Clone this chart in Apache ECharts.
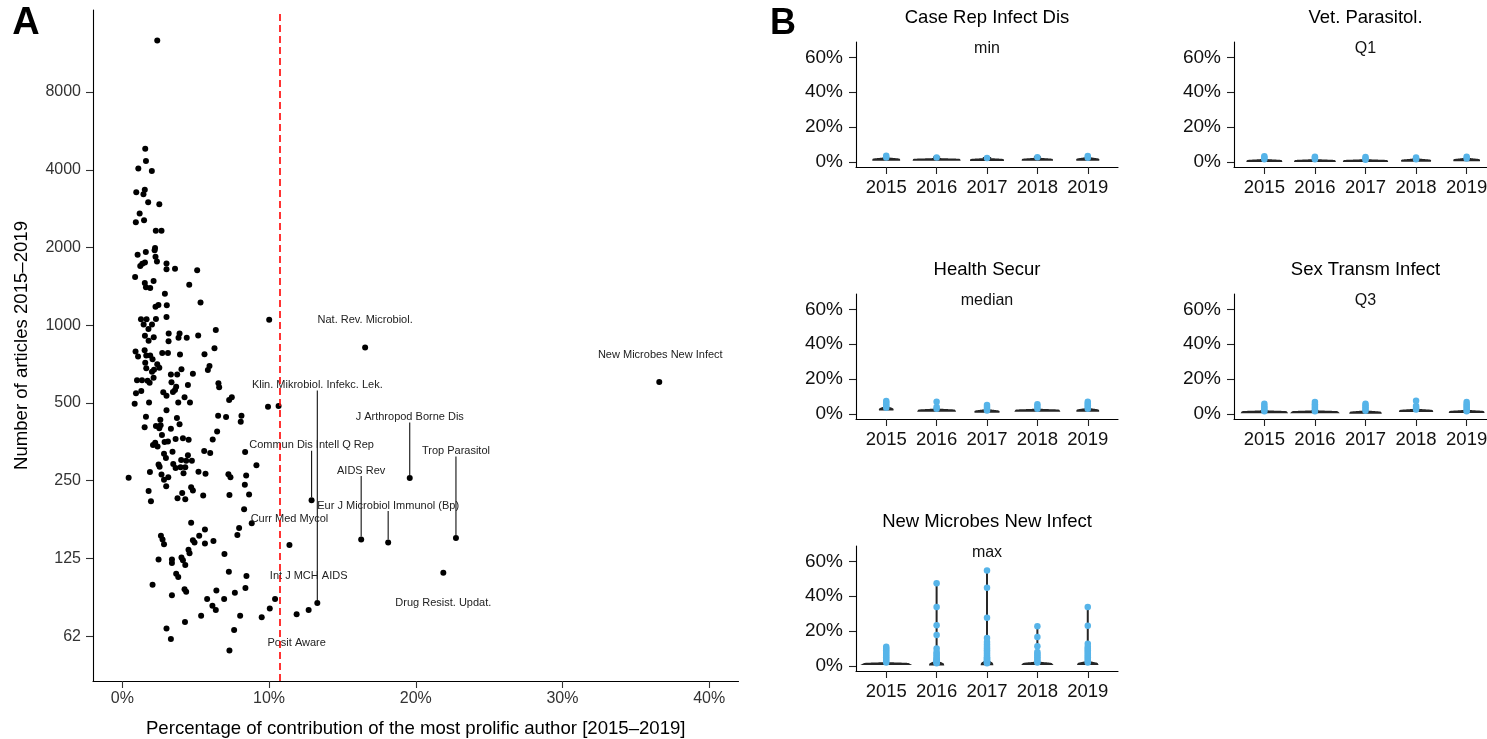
<!DOCTYPE html>
<html><head><meta charset="utf-8">
<script src="https://cdn.jsdelivr.net/npm/echarts@6/dist/echarts.min.js"></script>
<style>html,body{margin:0;padding:0;background:#fff}#c{width:1487px;height:739px}</style>
</head><body><div id="c"></div>
<script>
// ---------- Panel A data ----------
const pctMain = [2.38,1.56,1.61,1.09,2.01,0.95,1.53,1.44,1.76,2.52,
1.18,0.92,1.48,2.28,2.67,2.23,2.20,1.60,1.04,2.26,
2.36,1.54,1.36,1.22,3.01,3.01,3.59,5.10,0.87,2.13,
1.53,1.61,1.90,4.56,2.90,5.33,2.46,2.26,3.03,1.27,
1.65,2.29,3.01,10.01,1.45,2.02,1.78,6.37,3.16,3.90,
5.17,1.54,2.14,3.83,4.39,1.79,3.15,6.28,0.90,1.52,
2.72,3.11,1.07,1.63,1.90,3.93,5.60,2.06,1.56,2.38,
2.52,2.16,5.94,5.83,1.63,4.03,3.31,3.74,4.81,2.02,
2.13,1.00,1.34,1.72,1.86,3.35,3.67,3.59,4.47,6.55,
6.60,1.29,0.93,2.79,3.01,3.45,4.24,7.46,7.28,0.84,
1.82,3.81,4.61,9.93,10.65,3.01,1.61,2.59,3.72,6.53,
7.07,8.12,8.07,1.52,2.29,2.61,2.52,3.31,3.90,6.46,
2.70,3.63,4.13,4.52,6.16,2.24,2.09,2.40,2.88,3.11,
8.37,2.84,2.97,3.42,5.58,5.99,4.47,4.01,4.35,4.74,
9.14,2.47,2.54,3.47,3.63,3.97,4.29,1.88,4.17,5.19,
5.67,0.43,2.67,2.84,3.13,7.23,7.37,8.44,2.99,8.35,
1.79,4.69,4.81,1.95,4.08,3.76,4.29,5.51,7.30,8.64,
8.30,8.82,4.69,7.96,7.84,5.63,5.24,6.21,5.63,2.63,
2.74,2.84,4.81,4.92,4.51,4.58,4.03,3.38,2.47,6.96,
3.38,4.13,4.29,7.26,8.46,3.67,3.81,2.06,3.38,4.24,
4.35,6.41,7.67,8.39,5.78,6.94,6.14,6.37,10.41,10.05,
5.37,8.03,9.50,4.27,3.01,7.62,3.31,7.30];
const articlesMain = [12670,4828,4325,4043,3954,3276,3350,3216,2997,2944,
2706,2503,2548,2322,2322,1990,1953,1921,1875,1843,
1767,1751,1731,1695,1736,1648,1655,1634,1536,1483,
1456,1402,1393,1436,1323,1225,1198,1180,1195,1055,
1055,1058,1077,1050,1006,1006,967,959,930,930,
913,910,898,894,894,871,868,814,792,801,
780,780,757,764,764,771,773,738,715,707,
684,672,695,671,681,676,645,645,649,660,
626,612,612,610,599,601,578,561,587,596,
575,557,545,550,533,552,526,526,514,497,
502,502,502,484,487,469,442,431,437,446,
441,446,423,403,407,410,399,397,414,388,
376,363,365,360,361,351,344,339,353,355,
323,318,306,324,326,320,314,301,299,299,
287,289,283,290,280,282,282,270,267,271,
266,257,264,252,258,265,258,262,238,241,
228,236,229,208,224,214,212,219,220,221,
194,171,172,164,154,162,153,146,143,153,
148,142,147,144,135,131,126,124,124,130,
120,123,118,111,107,109,106,99,90,95,
93,94,92,96,87,87,82,79,87,80,
75,75,74,71,67,66,61,55];
const labeledNames = ['Curr Med Mycol','Posit Aware','Int J MCH AIDS','Commun Dis Intell Q Rep',
  'Klin. Mikrobiol. Infekc. Lek.','AIDS Rev','Nat. Rev. Microbiol.','Eur J Microbiol Immunol (Bp)',
  'J Arthropod Borne Dis','Drug Resist. Updat.','Trop Parasitol','New Microbes New Infect'];
const labeledPct = [11.39,11.88,12.70,12.90,13.29,16.28,16.55,18.12,19.59,21.88,22.74,36.60];
const labeledArticles = [141,76,79,210,84,148,820,144,256,110,150,603];
const thresholdPct = 10.72;
const xTickValuesA = [0,10,20,30,40];
const yTickValuesA = [62.5,125,250,500,1000,2000,4000,8000];

// ---------- Panel B data ----------
const years = [2015,2016,2017,2018,2019];
const yTickValuesB = [0,20,40,60];
const journalsB = ['Case Rep Infect Dis','Vet. Parasitol.','Health Secur','Sex Transm Infect','New Microbes New Infect'];
const statsB = ['min','Q1','median','Q3','max'];
// base value (share of single-article authors), number of such authors, other authors' shares
const caseRepBase = [1.3,1.2,1.1,1.2,1.3];
const caseRepBaseCount = [10,9,5,6,7];
const caseRepOthers = [[2.5,3.5],[2.5],[2.3],[2.7],[2.4,3.4]];
const vetParBase = [0.5,0.5,0.5,0.7,1.0];
const vetParBaseCount = [23,27,24,8,8];
const vetParOthers = [[1.5,2.5,3.2],[1.5,2.5,3.0],[1.2,2.0,2.8],[1.5,2.5],[2.0,3.0]];
const healthBase = [2.5,1.9,1.3,1.9,1.9];
const healthBaseCount = [16,50,23,45,35];
const healthOthers = [[3.5,4.5,5.5,6.5,7.4],[3.0,4.0,7.0],[2.0,3.0,4.0,5.2],[3.0,4.2,5.5],[3,4,5,6,7]];
const sexBase = [1.0,1.0,0.7,1.7,1.1];
const sexBaseCount = [83,127,59,55,80];
const sexOthers = [[1.5,2.5,3.5,4.5,5.8],[1.5,2.5,3.5,4.5,5.5,6.9],[1.8,2.8,3.8,4.8,5.8],[2.5,3.5,4.5,7.6],[1.5,2.5,3.5,4.5,5.5,6.9]];
const nmniBase = [1.1,0.8,1.0,1.1,1.1];
const nmniBaseCount = [390,385,380,390,387];
const nmniOthers = [
  [2,3,4,5,6,7,8,9,10,11],
  [1.5,2,2.5,3,3.5,4,5,6,7,8,10,17.8,23.3,33.8,47.4],
  [1.5,2,2.5,3,3.5,4,4.5,5,6,7,8,9,10,11,12.3,13.8,16.0,27.7,44.9,54.7],
  [2,3,4,5,6,7,8,11.3,16.6,22.7],
  [2,3,4,5,6,7,8,9,10,11,12.8,23.1,33.8]
];

// ---------- layout / style config ----------
const FONT = "'Liberation Sans', Arial, Helvetica, sans-serif";
const labelCfg = {
  'Curr Med Mycol': {dx:0, dy:-26, line:false},
  'Posit Aware': {dx:0, dy:29, line:false},
  'Int J MCH AIDS': {dx:0, dy:-34, line:false},
  'Commun Dis Intell Q Rep': {dx:0, dy:-55, line:true},
  'Klin. Mikrobiol. Infekc. Lek.': {dx:0, dy:-218, line:true},
  'AIDS Rev': {dx:0, dy:-69, line:true},
  'Nat. Rev. Microbiol.': {dx:0, dy:-28, line:false},
  'Eur J Microbiol Immunol (Bp)': {dx:0, dy:-37, line:true},
  'J Arthropod Borne Dis': {dx:0, dy:-61, line:true},
  'Drug Resist. Updat.': {dx:0, dy:30, line:false},
  'Trop Parasitol': {dx:0, dy:-87, line:true},
  'New Microbes New Infect': {dx:1, dy:-27, line:false}
};
const panelLayout = [
  {left:856, top:42, width:262},
  {left:1234, top:42, width:263},
  {left:856, top:294, width:262},
  {left:1234, top:294, width:263},
  {left:856, top:546, width:262}
];
const PANEL_H = 125;

// ---------- violin densities (gaussian KDE, nrd0 bandwidth, trimmed) ----------
function violinDensity(base, count, others) {
  const xs = [];
  for (let k = 0; k < count; k++) xs.push(base);
  others.forEach(v => xs.push(v));
  xs.sort((a,b) => a-b);
  const n = xs.length;
  const mean = xs.reduce((a,b)=>a+b,0)/n;
  const sd = Math.sqrt(xs.reduce((a,b)=>a+(b-mean)*(b-mean),0)/(n-1));
  const q = p => { const h=(n-1)*p, lo=Math.floor(h), hi=Math.ceil(h); return xs[lo]+(h-lo)*(xs[hi]-xs[lo]); };
  const iqr = q(0.75)-q(0.25);
  let lo = Math.min(sd, iqr/1.34);
  if (!lo) lo = sd || Math.abs(xs[0]) || 1;
  const bw = 0.9*lo*Math.pow(n,-0.2);
  const m = 512, y0 = xs[0], y1 = xs[n-1];
  const ys = [], ds = [];
  const norm = 1/(n*bw*Math.sqrt(2*Math.PI));
  for (let j = 0; j < m; j++) {
    const y = y0 + (y1-y0)*j/(m-1);
    let s = 0;
    for (let k = 0; k < n; k++) { const z = (y-xs[k])/bw; s += Math.exp(-0.5*z*z); }
    ys.push(y); ds.push(s*norm);
  }
  return {ys, ds};
}
const journalData = [
  {base:caseRepBase, cnt:caseRepBaseCount, oth:caseRepOthers},
  {base:vetParBase, cnt:vetParBaseCount, oth:vetParOthers},
  {base:healthBase, cnt:healthBaseCount, oth:healthOthers},
  {base:sexBase, cnt:sexBaseCount, oth:sexOthers},
  {base:nmniBase, cnt:nmniBaseCount, oth:nmniOthers}
];
const densities = journalData.map(j => years.map((y,i) => violinDensity(j.base[i], j.cnt[i], j.oth[i])));
let globalMax = 0;
densities.forEach(p => p.forEach(d => d.ds.forEach(v => { if (v > globalMax) globalMax = v; })));

// ---------- build option ----------
const grids = [{left:93, top:10, width:645.5, height:671, outerBoundsMode:'none'}];
panelLayout.forEach(p => grids.push({left:p.left, top:p.top, width:p.width, height:PANEL_H, outerBoundsMode:'none'}));

const yTickLogsA = yTickValuesA.map(v => Math.log2(v/1000));
const xAxes = [{
  type:'value', gridIndex:0, min:-2, max:42,
  axisLine:{show:true, onZero:false, lineStyle:{color:'#000', width:1.1}},
  axisTick:{show:true, length:7, customValues:xTickValuesA, lineStyle:{color:'#333', width:1.1}},
  axisLabel:{customValues:xTickValuesA, formatter:v => v+'%', fontSize:16, color:'#333', margin:10, fontFamily:FONT},
  splitLine:{show:false},
  name:'Percentage of contribution of the most prolific author [2015–2019]',
  nameLocation:'middle', nameGap:38, nameTextStyle:{fontSize:18.6, color:'#000', fontFamily:FONT}
}];
const yAxes = [{
  type:'value', gridIndex:0, min:-4.576, max:4.055,
  axisLine:{show:true, onZero:false, lineStyle:{color:'#000', width:1.1}},
  axisTick:{show:true, length:7, customValues:yTickLogsA, lineStyle:{color:'#333', width:1.1}},
  axisLabel:{customValues:yTickLogsA, formatter:v => String(Math.floor(1000*Math.pow(2,v)+1e-6)), fontSize:16, color:'#333', margin:12, fontFamily:FONT},
  splitLine:{show:false},
  name:'Number of articles 2015–2019', nameLocation:'middle', nameGap:62, nameRotate:90,
  nameTextStyle:{fontSize:18.6, color:'#000', fontFamily:FONT}
}];
panelLayout.forEach((p, i) => {
  xAxes.push({
    type:'value', gridIndex:i+1, min:2014.4, max:2019.6,
    axisLine:{show:true, onZero:false, lineStyle:{color:'#000', width:1.1}},
    axisTick:{show:true, length:7, customValues:years, lineStyle:{color:'#222', width:1.1}},
    axisLabel:{customValues:years, formatter:v => String(v), fontSize:18.5, color:'#111', margin:11, fontFamily:FONT},
    splitLine:{show:false}
  });
  yAxes.push({
    type:'value', gridIndex:i+1, min:-2.9, max:68.8,
    axisLine:{show:true, onZero:false, lineStyle:{color:'#000', width:1.1}},
    axisTick:{show:true, length:7, customValues:yTickValuesB, lineStyle:{color:'#222', width:1.1}},
    axisLabel:{customValues:yTickValuesB, formatter:v => v+'%', fontSize:19, color:'#111', margin:13, fontFamily:FONT},
    splitLine:{show:false}
  });
});

const series = [];
series.push({
  type:'scatter', xAxisIndex:0, yAxisIndex:0, symbolSize:6,
  itemStyle:{color:'#000', opacity:1},
  data: pctMain.map((x,i) => [x, Math.log2(articlesMain[i]/1000)]),
  markLine:{silent:true, symbol:['none','none'], label:{show:false}, animation:false,
    lineStyle:{color:'#FF0000', type:[7,4], width:1.6, opacity:1}, data:[{xAxis:thresholdPct}]},
  z:3
});
series.push({
  type:'scatter', xAxisIndex:0, yAxisIndex:0, symbolSize:6,
  itemStyle:{color:'#000', opacity:1},
  data: labeledNames.map((nm,i) => ({
    name:nm, value:[labeledPct[i], Math.log2(labeledArticles[i]/1000)],
    labelLine:{show:labelCfg[nm].line, lineStyle:{color:'#111', width:1.1, opacity:1}}
  })),
  label:{show:true, position:'inside', formatter:p => p.name, color:'#222', fontSize:11, fontFamily:FONT,
    align:'center', verticalAlign:'middle'},
  labelLayout: p => { const c = labelCfg[labeledNames[p.dataIndex]]; return {dx:c.dx, dy:c.dy}; },
  z:4
});
journalData.forEach((j, pi) => {
  series.push({
    type:'custom', xAxisIndex:pi+1, yAxisIndex:pi+1, silent:true, z:2,
    data: years.map((y,i) => [y, i]),
    renderItem: (params, api) => {
      const yr = api.value(0), idx = api.value(1);
      const d = densities[pi][idx];
      const left = [], right = [];
      for (let k = 0; k < d.ys.length; k++) {
        const w = 0.45*d.ds[k]/globalMax;
        left.push(api.coord([yr-w, d.ys[k]]));
        right.push(api.coord([yr+w, d.ys[k]]));
      }
      return {type:'polygon', shape:{points:left.concat(right.reverse())},
        style:{fill:'#777', stroke:'#262626', lineWidth:2}};
    }
  });
});
journalData.forEach((j, pi) => {
  const pts = [];
  years.forEach((y,i) => j.oth[i].forEach(v => pts.push([y, v])));
  series.push({type:'scatter', xAxisIndex:pi+1, yAxisIndex:pi+1, symbolSize:6.5, z:3,
    itemStyle:{color:'#56B4E9', opacity:1}, data:pts});
});

const graphic = [
  {type:'text', x:26, y:24, style:{text:'A', fontSize:38, fontWeight:'bold', fontFamily:FONT, fill:'#000', align:'center', verticalAlign:'middle', textAlign:'center', textVerticalAlign:'middle'}},
  {type:'text', x:783, y:24, style:{text:'B', fontSize:36, fontWeight:'bold', fontFamily:FONT, fill:'#000', align:'center', verticalAlign:'middle', textAlign:'center', textVerticalAlign:'middle'}}
];
panelLayout.forEach((p, i) => {
  const cx = p.left + p.width/2;
  graphic.push({type:'text', x:cx, y:p.top-24, style:{text:journalsB[i], fontSize:18.5, fontFamily:FONT, fill:'#000', align:'center', verticalAlign:'middle', textAlign:'center', textVerticalAlign:'middle'}});
  graphic.push({type:'text', x:cx, y:p.top+7, style:{text:statsB[i], fontSize:16, fontFamily:FONT, fill:'#111', align:'center', verticalAlign:'middle', textAlign:'center', textVerticalAlign:'middle'}});
});

const chart = echarts.init(document.getElementById('c'), null, {renderer:'canvas'});
chart.setOption({
  animation:false, backgroundColor:'#fff',
  textStyle:{fontFamily:FONT},
  grid:grids, xAxis:xAxes, yAxis:yAxes, series:series, graphic:graphic
});
</script></body></html>
